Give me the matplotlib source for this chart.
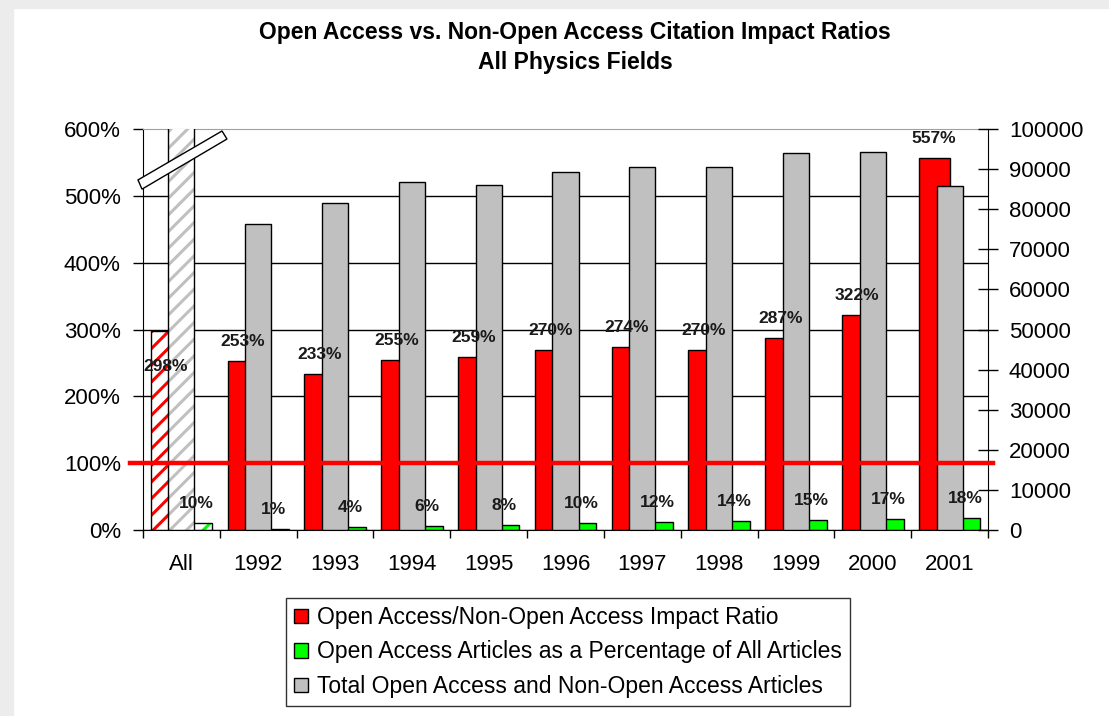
import numpy as np
import matplotlib.pyplot as plt
import matplotlib.transforms as mtransforms
from matplotlib.patches import Patch, Polygon, Rectangle

plt.rcParams["font.family"] = ["Liberation Sans", "DejaVu Sans"]
plt.rcParams["hatch.linewidth"] = 2.2

categories = ["All", "1992", "1993", "1994", "1995", "1996", "1997", "1998", "1999", "2000", "2001"]
impact_ratio = [298, 253, 233, 255, 259, 270, 274, 270, 287, 322, 557]
oa_share = [10, 1, 4, 6, 8, 10, 12, 14, 15, 17, 18]
total_articles = [874700, 76300, 81500, 86700, 86000, 89200, 90500, 90500, 93900, 94200, 85900]

legend_labels = ["Open Access/Non-Open Access Impact Ratio",
                 "Open Access Articles as a Percentage of All Articles",
                 "Total Open Access and Non-Open Access Articles"]

RED = "#ff0000"
GREEN = "#00ff00"
GRAY = "#c0c0c0"

W, H = 1109, 716
fig = plt.figure(figsize=(W / 100, H / 100), dpi=100)
fig.patch.set_facecolor("white")
# grey frame strips at top and left
fig.add_artist(Rectangle((0, 1 - 8 / H), 1, 8 / H, transform=fig.transFigure, color="#ececec", zorder=0))
fig.add_artist(Rectangle((0, 0), 13 / W, 1, transform=fig.transFigure, color="#ececec", zorder=0))

ax = fig.add_axes([143 / W, 1 - 530 / H, 845 / W, 401 / H])
ax2 = ax.twinx()

x = np.arange(len(categories))
w = 0.40
gw = 0.34

# primary axis: ratio (red) and share (green)
ax.bar(x[1:] - w / 2, impact_ratio[1:], w, color=RED, edgecolor="black", lw=1)
ax.bar(x[:1] - w / 2, impact_ratio[:1], w, facecolor="white", edgecolor=RED, hatch="//", lw=0)
ax.bar(x[:1] - w / 2, impact_ratio[:1], w, fill=False, edgecolor="black", lw=1)

ax.bar(x[1:] + w / 2, oa_share[1:], w, color=GREEN, edgecolor="black", lw=1)
ax.bar(x[:1] + w / 2, oa_share[:1], w, facecolor="white", edgecolor=GREEN, hatch="//", lw=0)
ax.bar(x[:1] + w / 2, oa_share[:1], w, fill=False, edgecolor="black", lw=1)

# secondary axis: totals (grey), drawn on top
ax2.bar(x[1:], total_articles[1:], gw, color=GRAY, edgecolor="black", lw=1)
ax2.bar(x[:1], total_articles[:1], gw, facecolor="white", edgecolor=GRAY, hatch="//", lw=0)
ax2.bar(x[:1], total_articles[:1], gw, fill=False, edgecolor="black", lw=1)

# axis break marker on the "All" bar
ax2.add_patch(Polygon([(-0.0059, 0.873), (0.0935, 0.995), (0.0994, 0.975), (-0.0012, 0.850)],
                      closed=True, transform=ax2.transAxes, facecolor="white",
                      edgecolor="black", lw=1, clip_on=False, zorder=6))

# 100% reference line
trans = mtransforms.blended_transform_factory(ax2.transAxes, ax.transData)
ax2.plot([-0.015, 1.006], [100, 100], transform=trans, color=RED, lw=3.2, clip_on=False, zorder=4)

# data labels
for i, v in enumerate(impact_ratio):
    dy = -26 if i == 0 else 14
    ax2.annotate(f"{v}%", xy=(x[i] - w / 2, v), xycoords=ax.transData, xytext=(0, dy),
                 textcoords="offset points", ha="center", va="center",
                 fontsize=12.5, fontweight="bold", color="#1a1a1a", zorder=7)
for i, v in enumerate(oa_share):
    ax2.annotate(f"{v}%", xy=(x[i] + w / 2, v), xycoords=ax.transData, xytext=(0, 14),
                 textcoords="offset points", ha="center", va="center",
                 fontsize=12.5, fontweight="bold", color="#1a1a1a", zorder=7)

# left axis
ax.set_ylim(0, 600)
ax.set_yticks(range(0, 601, 100))
ax.set_yticklabels([f"{v}%" for v in range(0, 601, 100)])
ax.yaxis.grid(True, color="black", lw=1)
ax.yaxis.get_gridlines()[-1].set_visible(False)
ax.set_axisbelow(True)
ax.tick_params(axis="y", direction="out", length=7, width=1, labelsize=16, pad=9)

# x axis
ax.set_xlim(-0.5, len(categories) - 0.5)
ax.set_xticks(np.arange(-0.5, len(categories), 1))
ax.set_xticklabels([])
ax.set_xticks(x, minor=True)
ax.set_xticklabels(categories, minor=True)
ax.tick_params(axis="x", which="major", direction="out", length=6, width=1)
ax.tick_params(axis="x", which="minor", length=0, labelsize=16, pad=17)

# right axis
ax2.set_ylim(0, 100000)
ax2.set_yticks(range(0, 100001, 10000))
ax2.set_yticklabels([str(v) for v in range(0, 100001, 10000)])
ax2.tick_params(axis="y", direction="inout", length=14, width=1, labelsize=16, pad=8)

ax.spines["top"].set_color("#a0a0a0")
ax.spines["right"].set_visible(False)
for s in ["top", "left", "bottom"]:
    ax2.spines[s].set_visible(False)
ax2.spines["right"].set_color("black")

# title
fig.text(575 / W, 1 - 32 / H, "Open Access vs. Non-Open Access Citation Impact Ratios",
         ha="center", va="center", fontsize=16.5, fontweight="bold")
fig.text(575 / W, 1 - 62 / H, "All Physics Fields",
         ha="center", va="center", fontsize=16.5, fontweight="bold")

# legend
handles = [Patch(facecolor=RED, edgecolor="black"),
           Patch(facecolor=GREEN, edgecolor="black"),
           Patch(facecolor=GRAY, edgecolor="black")]
leg = fig.legend(handles, legend_labels, loc="upper center", bbox_to_anchor=(568 / W, 1 - 598 / H),
                 frameon=True, fancybox=False, edgecolor="black", fontsize=16.5,
                 handlelength=0.6, handleheight=0.6, handletextpad=0.4,
                 labelspacing=0.5, borderpad=0.35, borderaxespad=0)
leg.get_frame().set_linewidth(1)

fig.savefig("out.png", dpi=100)
